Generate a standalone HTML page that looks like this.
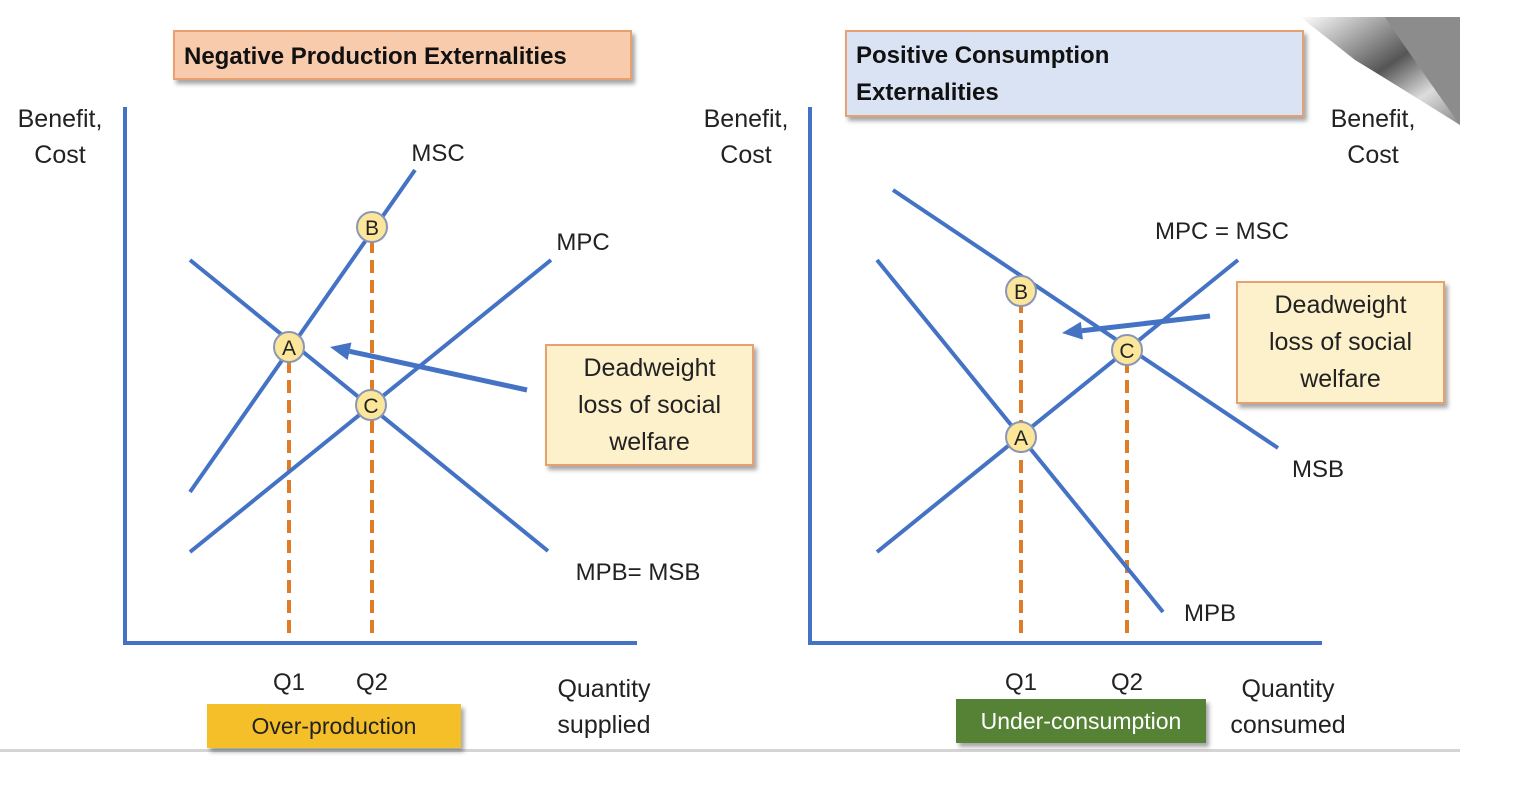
<!DOCTYPE html>
<html><head><meta charset="utf-8">
<style>
html,body{margin:0;padding:0;background:#fff;}
svg{display:block;font-family:"Liberation Sans",sans-serif;}
</style></head>
<body>
<svg id="chart" width="1516" height="796" viewBox="0 0 1516 796" xmlns="http://www.w3.org/2000/svg">
<defs>
<linearGradient id="curl" x1="0" y1="0" x2="1" y2="1">
<stop offset="0" stop-color="#ffffff"/><stop offset="0.5" stop-color="#555"/><stop offset="0.75" stop-color="#ddd"/><stop offset="1" stop-color="#888"/>
</linearGradient>
<filter id="sh" x="-10%" y="-10%" width="130%" height="140%"><feDropShadow dx="3" dy="4" stdDeviation="2" flood-color="#000" flood-opacity="0.35"/></filter>
</defs>
<rect x="0" y="749" width="1460" height="3" fill="#d4d4d4"/>
<g id="static"></g>
</svg>
<script>
// Data in chart units (0..100 each axis)
const leftCurveNames = ["MSC","MPC","MPB= MSB"];
const leftCurveX1 = [13,13,13];
const leftCurveY1 = [30.2,18.2,76.6];
const leftCurveX2 = [58,85.2,84.6];
const leftCurveY2 = [94.6,76.6,18.4];
const leftPointNames = ["A","B","C"];
const leftPointX = [32.8,49.4,49.2];
const leftPointY = [59.2,83.2,47.6];
const leftQuantities = ["Q1","Q2"];
const leftQuantityX = [32.8,49.4];

const rightCurveNames = ["MSB","MPB","MPC = MSC"];
const rightCurveX1 = [16.6,13.4,13.4];
const rightCurveY1 = [90.6,76.6,18.2];
const rightCurveX2 = [93.6,70.6,85.6];
const rightCurveY2 = [39,6.2,76.6];
const rightPointNames = ["B","C","A"];
const rightPointX = [42.2,63.4,42.2];
const rightPointY = [70.4,58.6,41.2];
const rightQuantities = ["Q1","Q2"];
const rightQuantityX = [42.2,63.4];

const NS="http://www.w3.org/2000/svg";
const svg=document.getElementById('chart');
function mk(tag,attrs,parent){const e=document.createElementNS(NS,tag);for(const k in attrs)e.setAttribute(k,attrs[k]);(parent||svg).appendChild(e);return e;}
function txt(x,y,s,size,parent,opt){const t=mk('text',Object.assign({x:x,y:y,'font-size':size,'text-anchor':'middle',fill:'#222'},opt||{}),parent);t.textContent=s;return t;}

function drawPanel(side,ox,oy,cn,cx1,cy1,cx2,cy2,pn,px,py,qn,qx,labelPos){
  const xs=v=>ox+v*5, ys=v=>oy-v*5;
  const g=mk('g',{});
  
  
  // axes
  const ax=mk('path',{d:`M${ox},${oy-536} L${ox},${oy} L${ox+512},${oy}`,stroke:'#4472c4','stroke-width':4,fill:'none'},g);
  
  
  // dashed
  for(let i=0;i<qn.length;i++){
    const pi=i;
    const d=mk('line',{x1:xs(qx[i]),x2:xs(qx[i]),y1:oy-10,y2:ys(side==='left'?px.length&&py[i]:py[i])+14,stroke:'#e07b28','stroke-width':4,'stroke-dasharray':'13,7'},g);
    
    
    const q=txt(xs(qx[i]),oy+47,qn[i],24,g);
    
    
  }
  for(let i=0;i<cn.length;i++){
    const l=mk('line',{x1:xs(cx1[i]),y1:ys(cy1[i]),x2:xs(cx2[i]),y2:ys(cy2[i]),stroke:'#4472c4','stroke-width':4},g);
    
    
    const t=txt(labelPos[i][0],labelPos[i][1],cn[i],24,g);
    
    
  }
  for(let i=0;i<pn.length;i++){
    const c=mk('circle',{cx:xs(px[i]),cy:ys(py[i]),r:15,fill:'#fbe69a',stroke:'#8a96b8','stroke-width':2},g);
    
    
    const t=txt(xs(px[i]),ys(py[i])+8,pn[i],21,g);
    
    
  }
  return g;
}
drawPanel('left',125,643,leftCurveNames,leftCurveX1,leftCurveY1,leftCurveX2,leftCurveY2,leftPointNames,leftPointX,leftPointY,leftQuantities,leftQuantityX,[[438,161],[583,250],[638,580]]);
drawPanel('right',810,643,rightCurveNames,rightCurveX1,rightCurveY1,rightCurveX2,rightCurveY2,rightPointNames,rightPointX,rightPointY,rightQuantities,rightQuantityX,[[1318,477],[1210,621],[1222,239]]);

// arrows
function arrow(name,x1,y1,x2,y2){
  const a=Math.atan2(y2-y1,x2-x1),L=20,W=9;
  const bx=x2-L*Math.cos(a),by=y2-L*Math.sin(a);
  const l=mk('line',{x1:x1,y1:y1,x2:bx,y2:by,stroke:'#4472c4','stroke-width':5});
  
  
  const p=mk('polygon',{points:`${x2},${y2} ${bx+W*Math.sin(a)},${by-W*Math.cos(a)} ${bx-W*Math.sin(a)},${by+W*Math.cos(a)}`,fill:'#4472c4'});
  
  
}
arrow('left-dwl-arrow',527,390,330,347);
arrow('right-dwl-arrow',1210,316,1062,333);

function box(name,x,y,w,h,fill,stroke,lines,size,weight,anchor,color,lh,ty){
  const r=mk('rect',{x:x,y:y,width:w,height:h,fill:fill,stroke:stroke,'stroke-width':2,filter:'url(#sh)'});
  
  
  lines.forEach((s,i)=>{
    const tx=anchor==='start'?x+10:x+w/2;
    const t=txt(tx,ty+i*lh,s,size,null,{'font-weight':weight,'text-anchor':anchor,fill:color});
    
    
  });
}
box('left-title',174,31,457,48,'#f8cbad','#e8a070',['Negative Production Externalities'],24,'bold','start','#111',0,64);
box('right-title',846,31,457,85,'#dae3f3','#e8a070',['Positive Consumption','Externalities'],24,'bold','start','#111',37,63);
box('left-dwl-box',546,345,207,120,'#fdf1cc','#e8a070',['Deadweight','loss of social','welfare'],25,'normal','middle','#222',37,376);
box('right-dwl-box',1237,282,207,121,'#fdf1cc','#e8a070',['Deadweight','loss of social','welfare'],25,'normal','middle','#222',37,313);
box('over-production-tag',208,705,252,42,'#f5bf2c','#f5bf2c',['Over-production'],23,'normal','middle','#222',0,734);
box('under-consumption-tag',957,700,248,42,'#548235','#548235',['Under-consumption'],23,'normal','middle','#fff',0,729);

const plain=[['y-axis-title-left',60,['Benefit,','Cost']],['y-axis-title-middle',746,['Benefit,','Cost']],['y-axis-title-right',1373,['Benefit,','Cost']]];
plain.forEach(p=>{p[2].forEach((s,i)=>{const t=txt(p[1],127+i*36,s,25);});});
[['x-axis-title-left',604,['Quantity','supplied']],['x-axis-title-right',1288,['Quantity','consumed']]].forEach(p=>{p[2].forEach((s,i)=>{const t=txt(p[1],697+i*36,s,25);});});

// page curl
const curl=mk('polygon',{points:'1325,17 1460,17 1460,125',fill:'#8c8c8c'});


const curl2=mk('path',{d:'M1300,17 L1385,17 Q1400,40 1460,125 Q1380,75 1355,60 Q1330,40 1300,17 Z',fill:'url(#curl)'});


</script>
</body></html>
